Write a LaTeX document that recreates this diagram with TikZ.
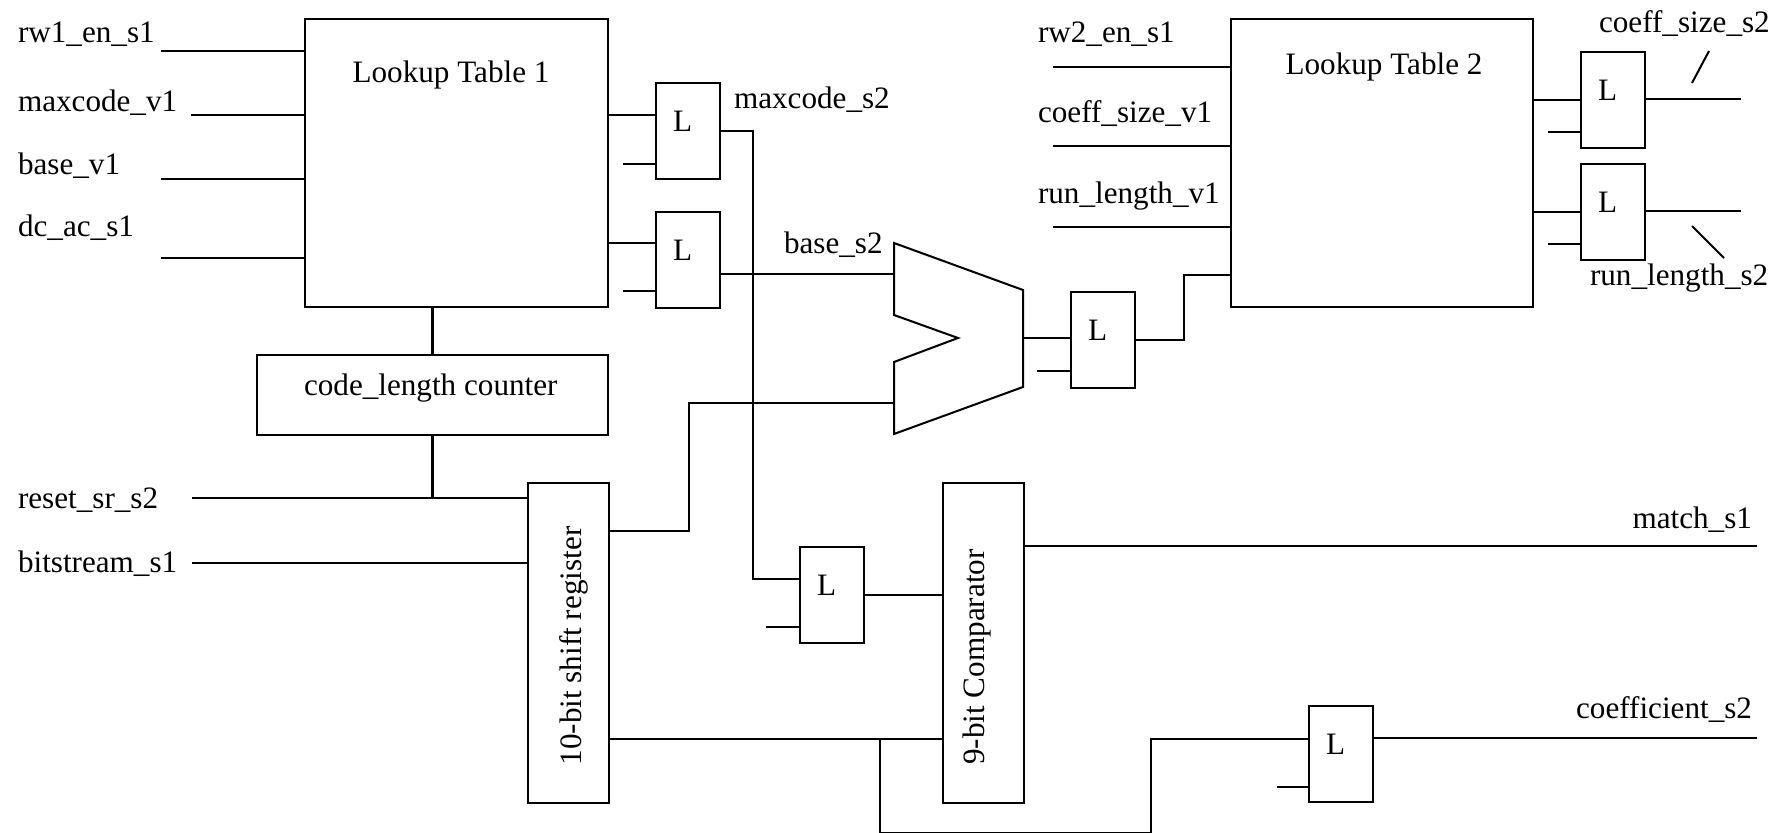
\documentclass[tikz,border=0pt]{standalone}
\usepackage{fontspec}
\setmainfont{Liberation Serif}
\begin{document}
\begin{tikzpicture}[x=1.128cm, y=-1.128cm, line width=0.65pt, bnode/.style={draw, rectangle, anchor=north west, inner sep=0pt}, lnode/.style={draw, rectangle, anchor=north west, inner sep=0pt, minimum width=0.722cm, minimum height=1.083cm, label={[xshift=-0.6mm,yshift=1.1mm]center:L}}, tnode/.style={inner sep=0pt}]
    \useasboundingbox (0,0) rectangle (17.91,8.33);

    \node[bnode, minimum width=3.418cm, minimum height=3.249cm] (lt1) at (3.04,0.18) {};
    \node[bnode, minimum width=3.407cm, minimum height=3.249cm] (lt2) at (12.30,0.18) {};
    \node[bnode, minimum width=3.959cm, minimum height=0.902cm] (cnt) at (2.56,3.54) {};
    \node[bnode, minimum width=0.914cm, minimum height=3.610cm] (sr) at (5.27,4.82) {};
    \node[bnode, minimum width=0.914cm, minimum height=3.610cm] (cmp) at (9.42,4.82) {};

    \node[tnode, anchor=base] (lt1t) at (4.51,0.83) {Lookup Table 1};
    \node[tnode, anchor=base] (lt2t) at (13.84,0.75) {Lookup Table 2};
    \node[tnode, anchor=base west] (cntt) at (3.03,3.95) {code\_length counter};
    \node[tnode, rotate=90] (srt) at (5.74,6.46) {10-bit shift register};
    \node[tnode, rotate=90] (cmpt) at (9.77,6.57) {9-bit Comparator};

    \node[lnode] (l1) at (6.55,0.82) {};
    \node[lnode] (l2) at (6.55,2.11) {};
    \node[lnode] (l3) at (10.70,2.91) {};
    \node[lnode] (l4) at (15.80,0.51) {};
    \node[lnode] (l5) at (15.80,1.63) {};
    \node[lnode] (l6) at (7.99,5.46) {};
    \node[lnode] (l7) at (13.08,7.05) {};

    \node[tnode, anchor=base west] (n1) at (0.17,0.43) {rw1\_en\_s1};
    \node[tnode, anchor=base west] (n2) at (0.17,1.12) {maxcode\_v1};
    \node[tnode, anchor=base west] (n3) at (0.17,1.75) {base\_v1};
    \node[tnode, anchor=base west] (n4) at (0.17,2.37) {dc\_ac\_s1};
    \node[tnode, anchor=base west] (n5) at (0.17,5.08) {reset\_sr\_s2};
    \node[tnode, anchor=base west] (n6) at (0.17,5.72) {bitstream\_s1};
    \node[tnode, anchor=base west] (n7) at (7.33,1.09) {maxcode\_s2};
    \node[tnode, anchor=base west] (n8) at (7.83,2.53) {base\_s2};
    \node[tnode, anchor=base west] (n9) at (10.37,0.43) {rw2\_en\_s1};
    \node[tnode, anchor=base west] (n10) at (10.37,1.23) {coeff\_size\_v1};
    \node[tnode, anchor=base west] (n11) at (10.37,2.03) {run\_length\_v1};
    \node[tnode, anchor=base west] (n12) at (15.98,0.33) {coeff\_size\_s2};
    \node[tnode, anchor=base west] (n13) at (15.89,2.85) {run\_length\_s2};
    \node[tnode, anchor=base east] (n14) at (17.53,5.28) {match\_s1};
    \node[tnode, anchor=base east] (n15) at (17.53,7.18) {coefficient\_s2};

    \coordinate (a1) at (1.61,0.51);
    \coordinate (a2) at (1.91,1.15);
    \coordinate (a3) at (1.61,1.79);
    \coordinate (a4) at (1.61,2.58);
    \coordinate (r1) at (1.92,4.98);
    \coordinate (r2) at (1.92,5.63);
    \coordinate (b1) at (10.53,0.67);
    \coordinate (b2) at (10.53,1.46);
    \coordinate (b3) at (10.53,2.27);
    \coordinate (sa) at (8.94,2.74);
    \coordinate (sb) at (8.94,4.03);
    \coordinate (sc) at (10.23,3.38);
    \coordinate (o1) at (17.57,5.46);
    \coordinate (o2) at (17.57,7.38);
    \coordinate (o3) at (17.41,0.99);
    \coordinate (o4) at (17.41,2.11);

    \draw (8.94,2.43) -- (10.23,2.90) -- (10.23,3.87) -- (8.94,4.34) -- (8.94,3.62) -- (9.58,3.38) -- (8.94,3.15) -- cycle;

    \draw (a1) -- (a1 -| lt1.west);
    \draw (a2) -- (a2 -| lt1.west);
    \draw (a3) -- (a3 -| lt1.west);
    \draw (a4) -- (a4 -| lt1.west);
    \draw ([yshift=1.8mm]l1.west) -- +(-0.48,0);
    \draw ([yshift=-3.7mm]l1.west) -- +(-0.32,0);
    \draw ([yshift=1.9mm]l2.west) -- +(-0.48,0);
    \draw ([yshift=-3.5mm]l2.west) -- +(-0.32,0);
    \draw (l1.east) -- ++(0.32,0) |- ([yshift=1.8mm]l6.west);
    \draw (sa -| l2.east) -- (sa);
    \draw (cnt.north) -- (cnt.north |- lt1.south);
    \draw (cnt.south) -- (cnt.south |- r1);
    \draw (r1) -- (r1 -| sr.west);
    \draw (r2) -- (r2 -| sr.west);
    \draw ([yshift=12.6mm]sr.east) -- ++(0.79,0) |- (sb);
    \draw ([yshift=-10.8mm]sr.east) -- ([yshift=-10.8mm]cmp.west);
    \draw ([yshift=-10.8mm]sr.east) ++(2.70,0) -- ++(0,0.94) -- ++(2.71,0) |- ([yshift=1.7mm]l7.west);
    \draw ([yshift=-3.6mm]l6.west) -- +(-0.33,0);
    \draw (l6.east) -- (l6.east -| cmp.west);
    \draw (o1 -| cmp.east) -- (o1);
    \draw (o2 -| l7.east) -- (o2);
    \draw ([yshift=-3.7mm]l7.west) -- +(-0.31,0);
    \draw (sc) -- (sc -| l3.west);
    \draw ([yshift=-3.5mm]l3.west) -- +(-0.33,0);
    \draw (l3.east) -- ++(0.48,0) |- ([yshift=-12.6mm]lt2.west);
    \draw (b1) -- (b1 -| lt2.west);
    \draw (b2) -- (b2 -| lt2.west);
    \draw (b3) -- (b3 -| lt2.west);
    \draw (l4.west) -- (l4.west -| lt2.east);
    \draw ([yshift=-3.6mm]l4.west) -- +(-0.32,0);
    \draw (o3 -| l4.east) -- (o3);
    \draw (l5.west) -- (l5.west -| lt2.east);
    \draw ([yshift=-3.6mm]l5.west) -- +(-0.32,0);
    \draw (o4 -| l5.east) -- (o4);
    \draw (16.92,0.83) -- (17.09,0.51);
    \draw (16.92,2.26) -- (17.24,2.58);
\end{tikzpicture}
\end{document}
